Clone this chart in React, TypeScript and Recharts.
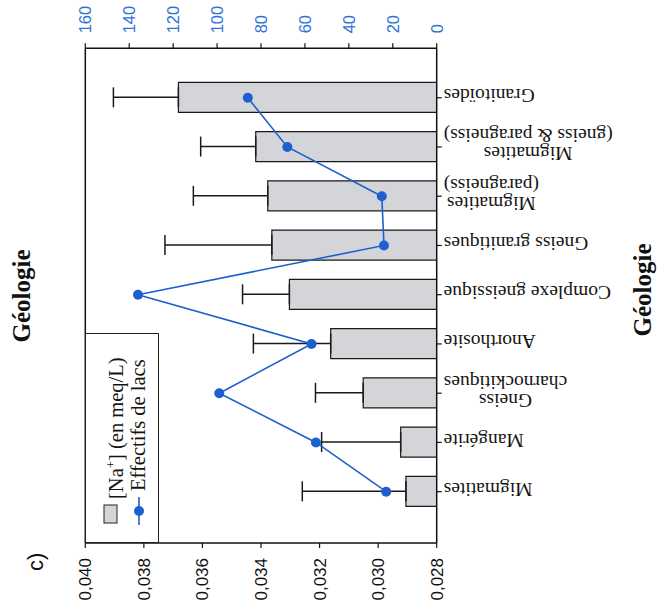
import React from 'react';
import { ComposedChart, Bar, Line, XAxis, YAxis, ErrorBar, ReferenceLine, Legend } from 'recharts';

const categories = [
  'Migmatites',
  'Mangérite',
  'Gneiss\ncharnockitiques',
  'Anorthosite',
  'Complexe gneissique',
  'Gneiss granitiques',
  'Migmatites\n(paragneiss)',
  'Migmatites\n(gneiss & paragneiss)',
  'Granitoïdes',
];
const sodium = [0.02905, 0.02923, 0.03051, 0.03162, 0.03303, 0.03363, 0.03377, 0.03418, 0.03682];
const sodiumError = [0.00354, 0.0027, 0.00163, 0.00264, 0.0016, 0.00365, 0.00254, 0.00188, 0.00222];
const lakeCounts = [23, 55, 99, 57, 136, 24, 25, 68, 86];
const sodiumTicks = [0.028, 0.03, 0.032, 0.034, 0.036, 0.038, 0.04];
const countTicks = [0, 20, 40, 60, 80, 100, 120, 140, 160];
const titleText = 'Géologie';
const panelText = 'c)';
const lakesLabel = 'Effectifs de lacs';

const data = categories.map((c, i) => ({
  category: c,
  sodium: sodium[i],
  sodiumErr: [0, sodiumError[i]],
  lakes: lakeCounts[i],
}));

const BLUE = '#1d5fcf';
const TICK_BLUE = '#2f72d6';
const BAR_FILL = '#d3d5d8';
const SERIF = '"Liberation Serif", "Times New Roman", serif';
const SANS = '"Liberation Sans", Arial, sans-serif';
const CAT_FONT = 19.5;
const LEG_FONT = 20.5;
const LINE_GAP = 18;

let ctx: CanvasRenderingContext2D | null = null;
const measure = (s: string) => {
  if (!ctx) ctx = document.createElement('canvas').getContext('2d');
  if (!ctx) return s.length * 9;
  ctx.font = `${CAT_FONT}px ${SERIF}`;
  return ctx.measureText(s).width;
};

const CategoryTick = (props: any) => {
  const { x, y, payload } = props;
  const lines = String(payload.value).split('\n');
  const maxW = Math.max(...lines.map(measure));
  return (
    <g transform={`translate(${x},${y}) rotate(-90)`}>
      {lines.map((l, i) => (
        <text
          key={i}
          x={-maxW / 2}
          y={(i - (lines.length - 1) / 2) * LINE_GAP + 2}
          textAnchor="middle"
          dominantBaseline="central"
          fontFamily={SERIF}
          fontSize={CAT_FONT}
          fill="#151515"
        >
          {l}
        </text>
      ))}
    </g>
  );
};

const LegendBox = () => (
  <div style={{ width: 210, height: 74, border: '1.3px solid #222', boxSizing: 'border-box', background: '#fff' }}>
    <svg width={208} height={72} style={{ display: 'block' }}>
      <rect x={19} y={18} width={18} height={13} fill={BAR_FILL} stroke="#222" strokeWidth={1} />
      <text x={43} y={37} fontFamily={SERIF} fontSize={LEG_FONT} fill="#151515">
        [Na<tspan dy={-8} fontSize={13}>+</tspan>
        <tspan dy={8}>] (en meq/L)</tspan>
      </text>
      <line x1={17} x2={45} y1={53} y2={53} stroke={BLUE} strokeWidth={1.6} />
      <circle cx={31} cy={53} r={5} fill={BLUE} />
      <text x={51} y={59} fontFamily={SERIF} fontSize={LEG_FONT} fill="#151515">
        {lakesLabel}
      </text>
    </svg>
  </div>
);

export default function App() {
  return (
    <div style={{ position: 'fixed', left: 0, top: 0, width: 663, height: 608, overflow: 'hidden', background: '#fff' }}>
      <div
        style={{
          position: 'absolute',
          left: 0,
          top: 0,
          width: 608,
          height: 663,
          transform: 'translateY(608px) rotate(-90deg)',
          transformOrigin: '0 0',
        }}
      >
        <ComposedChart width={608} height={663} data={data} margin={{ top: 85.3, right: 0, bottom: 0, left: 0 }}>
          <XAxis
            dataKey="category"
            height={226.3}
            padding={{ left: 26.7, right: 24.8 }}
            interval={0}
            tick={<CategoryTick />}
            tickSize={5}
            axisLine={{ stroke: '#111', strokeWidth: 1.5 }}
            tickLine={{ stroke: '#111', strokeWidth: 1.2 }}
          />
          <YAxis
            yAxisId="left"
            domain={[0.028, 0.04]}
            ticks={sodiumTicks}
            allowDataOverflow
            width={65}
            tickSize={5}
            tickMargin={10}
            tickFormatter={(v: number) => v.toFixed(3).replace('.', ',')}
            tick={{ fontSize: 17, fill: '#111', fontFamily: SANS }}
            axisLine={{ stroke: '#111', strokeWidth: 1.5 }}
            tickLine={{ stroke: '#111', strokeWidth: 1.2 }}
          />
          <YAxis
            yAxisId="right"
            orientation="right"
            domain={[0, 160]}
            ticks={countTicks}
            width={48.3}
            tickSize={5}
            tickMargin={10}
            tick={{ fontSize: 16.5, fill: TICK_BLUE, fontFamily: SANS }}
            axisLine={{ stroke: '#111', strokeWidth: 1.5 }}
            tickLine={{ stroke: '#111', strokeWidth: 1.2 }}
          />
          <ReferenceLine yAxisId="left" y={0.04} stroke="#111" strokeWidth={1.5} />
          <Bar
            yAxisId="left"
            dataKey="sodium"
            name="[Na+] (en meq/L)"
            barSize={30}
            fill={BAR_FILL}
            stroke="#1a1a1a"
            strokeWidth={1.2}
            isAnimationActive={false}
          >
            <ErrorBar dataKey="sodiumErr" width={10} stroke="#1a1a1a" strokeWidth={1.5} direction="y" />
          </Bar>
          <Line
            yAxisId="right"
            dataKey="lakes"
            name={lakesLabel}
            stroke={BLUE}
            strokeWidth={1.6}
            dot={{ r: 5, fill: BLUE, stroke: 'none' }}
            isAnimationActive={false}
          />
          <Legend
            layout="vertical"
            align="center"
            verticalAlign="middle"
            content={<LegendBox />}
            wrapperStyle={{ left: 65, top: 85.3, width: 210, height: 74 }}
          />
        </ComposedChart>
        <div
          style={{
            position: 'absolute',
            left: 212,
            top: 8,
            width: 200,
            textAlign: 'center',
            fontFamily: SERIF,
            fontWeight: 'bold',
            fontSize: 25,
            lineHeight: '28px',
            color: '#111',
          }}
        >
          {titleText}
        </div>
        <div
          style={{
            position: 'absolute',
            left: 218,
            top: 629,
            width: 200,
            textAlign: 'center',
            fontFamily: SERIF,
            fontWeight: 'bold',
            fontSize: 25,
            lineHeight: '28px',
            color: '#111',
          }}
        >
          {titleText}
        </div>
        <div
          style={{
            position: 'absolute',
            left: 37,
            top: 23,
            fontFamily: SANS,
            fontSize: 22,
            lineHeight: '26px',
            color: '#111',
          }}
        >
          {panelText}
        </div>
      </div>
    </div>
  );
}
